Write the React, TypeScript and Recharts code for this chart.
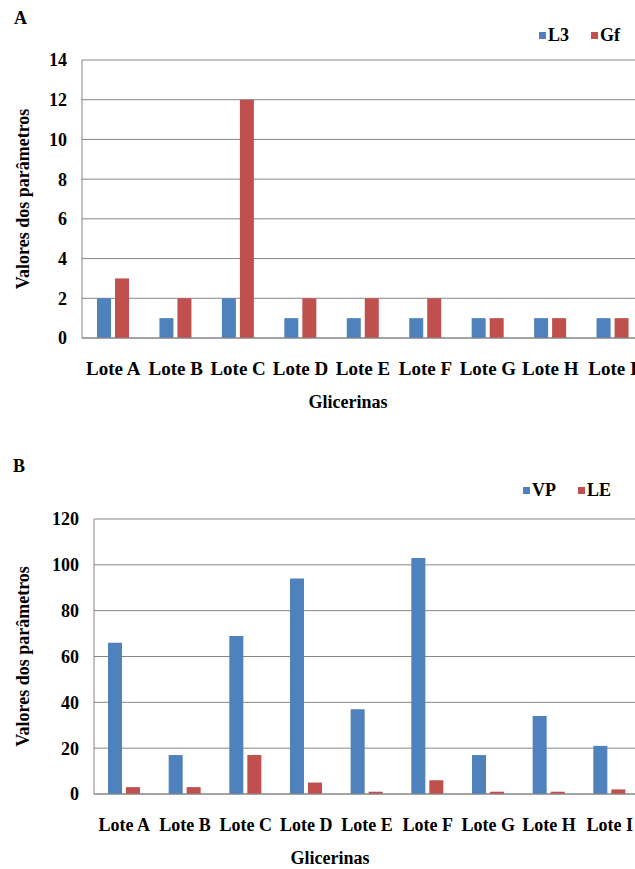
import React from "react";
import { BarChart, Bar, XAxis, YAxis, CartesianGrid, Label } from "recharts";

const lotes = ["Lote A", "Lote B", "Lote C", "Lote D", "Lote E", "Lote F", "Lote G", "Lote H", "Lote I"];
const l3 = [2, 1, 2, 1, 1, 1, 1, 1, 1];
const gf = [3, 2, 12, 2, 2, 2, 1, 1, 1];
const vp = [66, 17, 69, 94, 37, 103, 17, 34, 21];
const le = [3, 3, 17, 5, 1, 6, 1, 1, 2];
const ticksA = [0, 2, 4, 6, 8, 10, 12, 14];
const ticksB = [0, 20, 40, 60, 80, 100, 120];

const BLUE = "#4F81BD";
const RED = "#C0504D";
const GRID = "#868686";
const FONT = "'Liberation Serif', 'Times New Roman', serif";

const dataA = lotes.map((lote, i) => ({ lote, l3: l3[i], gf: gf[i] }));
const dataB = lotes.map((lote, i) => ({ lote, vp: vp[i], le: le[i] }));

const bold = { fontFamily: FONT, fontWeight: "bold" as const, fill: "#000" };

function yTitle(props: any) {
  const vb = props.viewBox || { y: 0, height: 0 };
  const cy = vb.y + vb.height / 2;
  return (
    <text x={23} y={cy} transform={`rotate(-90 23 ${cy})`} textAnchor="middle" dominantBaseline="central" fontSize={18} {...bold}>
      Valores dos parâmetros
    </text>
  );
}

function xTitle(cx: number, cy: number) {
  return () => (
    <text x={cx} y={cy} textAnchor="middle" dominantBaseline="central" fontSize={18} {...bold}>
      Glicerinas
    </text>
  );
}

function LegendBox({ items, top, left }: any) {
  return (
    <div style={{ position: "absolute", top, left, display: "flex", gap: 22, alignItems: "center", fontFamily: FONT, fontWeight: "bold", fontSize: 18, lineHeight: "20px" }}>
      {items.map((it: any) => (
        <div key={it.name} style={{ display: "flex", alignItems: "center" }}>
          <span style={{ width: 7, height: 7, background: it.color, marginRight: 2, display: "inline-block" }} />
          <span>{it.name}</span>
        </div>
      ))}
    </div>
  );
}

function Panel({ top, data, keys, names, ticks, yWidth, margin, height, titleX, titleY, tickFont }: any) {
  return (
    <div style={{ position: "absolute", top, left: 0 }}>
      <BarChart width={650} height={height} data={data} margin={margin} barGap={4}>
        <CartesianGrid stroke={GRID} vertical={false} />
        <XAxis
          dataKey="lote"
          interval={0}
          tickLine={false}
          tickSize={0}
          tickMargin={24}
          height={30}
          axisLine={{ stroke: GRID }}
          tick={{ fontSize: tickFont, ...bold }}
        >
          <Label content={xTitle(titleX, titleY)} />
        </XAxis>
        <YAxis
          width={yWidth}
          domain={[0, ticks[ticks.length - 1]]}
          ticks={ticks}
          interval={0}
          tickLine={false}
          tickSize={0}
          tickMargin={15}
          axisLine={{ stroke: GRID }}
          tick={{ fontSize: 18, ...bold }}
        >
          <Label content={yTitle} />
        </YAxis>
        <Bar dataKey={keys[0]} name={names[0]} fill={BLUE} barSize={14} isAnimationActive={false} />
        <Bar dataKey={keys[1]} name={names[1]} fill={RED} barSize={14} isAnimationActive={false} />
      </BarChart>
    </div>
  );
}

export default function App() {
  return (
    <div style={{ position: "absolute", top: 0, left: 0, width: 635, height: 869, overflow: "hidden", background: "#fff" }}>
      <div style={{ position: "absolute", top: 8, left: 14, fontFamily: FONT, fontWeight: "bold", fontSize: 18 }}>A</div>
      <LegendBox top={25} left={539} items={[{ name: "L3", color: BLUE }, { name: "Gf", color: RED }]} />
      <Panel
        top={0}
        height={430}
        data={dataA}
        keys={["l3", "gf"]}
        names={["L3", "Gf"]}
        ticks={ticksA}
        yWidth={82}
        margin={{ top: 60, right: 6, left: 0, bottom: 62 }}
        titleX={348}
        titleY={402}
        tickFont={19}
      />
      <div style={{ position: "absolute", top: 456, left: 13, fontFamily: FONT, fontWeight: "bold", fontSize: 18 }}>B</div>
      <LegendBox top={480} left={523} items={[{ name: "VP", color: BLUE }, { name: "LE", color: RED }]} />
      <Panel
        top={460}
        height={409}
        data={dataB}
        keys={["vp", "le"]}
        names={["VP", "LE"]}
        ticks={ticksB}
        yWidth={94}
        margin={{ top: 59, right: 10, left: 0, bottom: 45 }}
        titleX={330}
        titleY={398}
        tickFont={18}
      />
    </div>
  );
}
